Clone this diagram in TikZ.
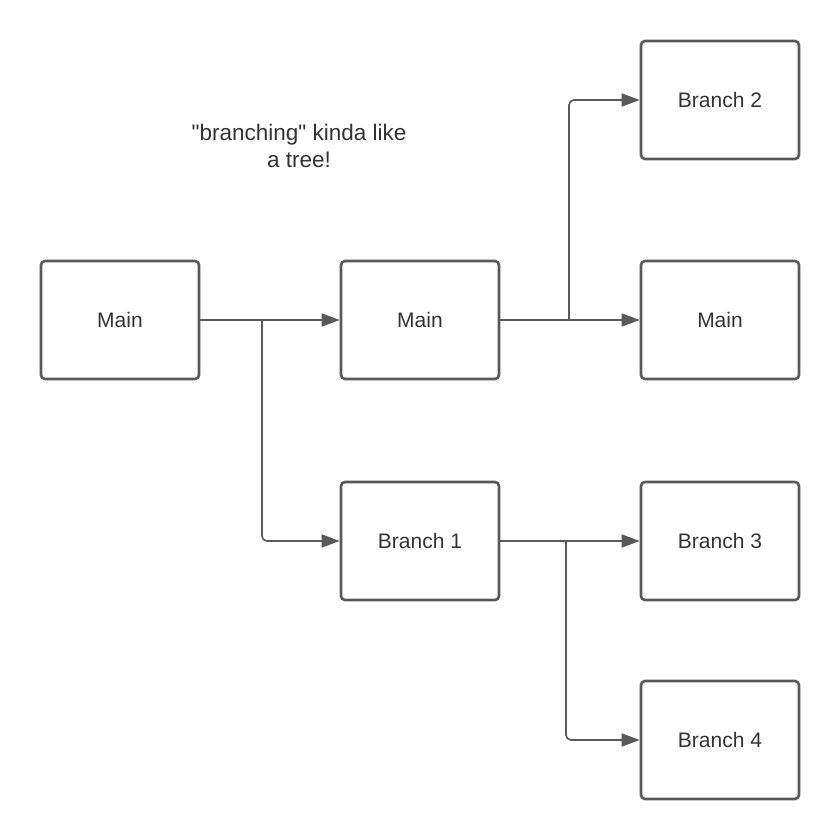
\documentclass[tikz,border=0pt]{standalone}
\usepackage{fontspec}
\setmainfont{Liberation Sans}
\usepackage{tikz}
\usetikzlibrary{arrows.meta}
\definecolor{edge}{RGB}{89, 89, 89}
\definecolor{ink}{RGB}{51, 51, 51}

\begin{document}
\begin{tikzpicture}[x=1pt, y=-1pt,
    box/.style={draw=edge, line width=2.6pt, rounded corners=4pt, minimum width=158pt, minimum height=118pt, text=ink, font=\fontsize{21}{25}\selectfont},
    arr/.style={draw=edge, line width=1.6pt, -{Triangle[length=18pt, width=13pt]}},
    note/.style={text=ink, align=center, font=\fontsize{22.5}{27}\selectfont}]
  \useasboundingbox (0, 0) rectangle (840, 840);
  \node[box] (main1) at (120, 320) {Main};
  \node[box] (main2) at (420, 320) {Main};
  \node[box] (main3) at (720, 320) {Main};
  \node[box] (branch1) at (420, 541) {Branch 1};
  \node[box] (branch2) at (720, 100) {Branch 2};
  \node[box] (branch3) at (720, 541) {Branch 3};
  \node[box] (branch4) at (720, 740) {Branch 4};
  \node[note] (remark) at (299, 146) {\textquotedbl branching\textquotedbl{} kinda like\\a tree!};
  % splits
  \coordinate (split1) at (262, 320);
  \coordinate (split2) at (569, 320);
  \coordinate (split3) at (566, 541);
  \draw[arr] (main1) -- (main2);
  \draw[arr] (main2) -- (main3);
  \draw[arr] (branch1) -- (branch3);
  \draw[arr, rounded corners=5pt] (split1) |- (branch1.west);
  \draw[arr, rounded corners=5pt] (split2) |- (branch2.west);
  \draw[arr, rounded corners=5pt] (split3) |- (branch4.west);
\end{tikzpicture}
\end{document}
